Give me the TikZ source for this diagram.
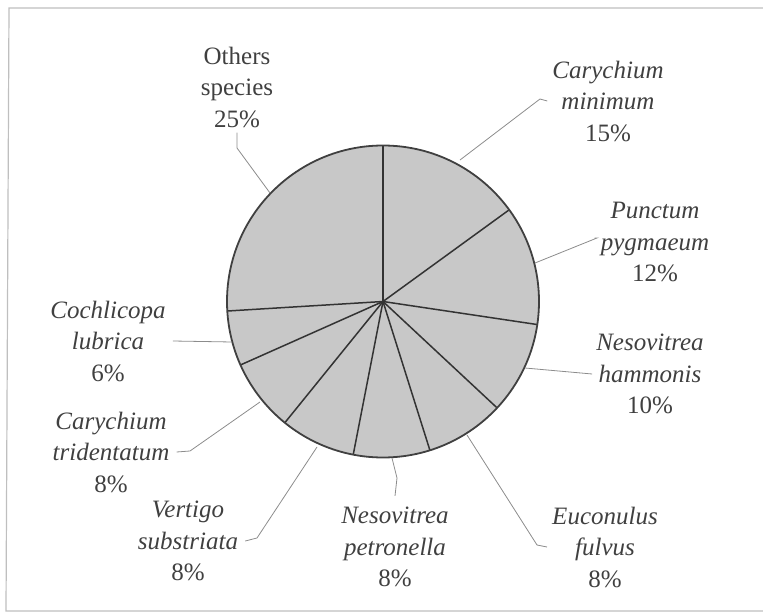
\documentclass[tikz,border=0pt]{standalone}
\usepackage{fontspec}
\setmainfont{Liberation Serif}
\definecolor{slicegray}{RGB}{200,200,200}
\definecolor{labgray}{RGB}{64,64,64}
\tikzset{leader/.style={draw=black!45,line width=0.8pt}}

\begin{document}
\begin{tikzpicture}
  [x=1pt,y=-1pt,every node/.style={align=center,inner sep=2pt,text=labgray,
   font=\fontsize{25}{31.5}\selectfont}]
  \useasboundingbox (0,0) rectangle (763,612);
  \draw[black!25,line width=1.2pt] (763,8) -- (9,8) -- (6,611) -- (763,611);

  % the pie
  \coordinate (c) at (383,301.5);
  \fill[slicegray] (c) circle (156);
  \foreach \a in {-90,-36,8.5,43,72.5,101,129,156,176.5}
    \draw[black!80,line width=1.5pt] (c) -- ++(\a:156);
  \draw[black!75,line width=1.8pt] (c) circle (156);

  % labels
  \node (oth)  at (237,87)  {Others\\species\\25\%};
  \node (cmin) at (608,101) {\textit{Carychium}\\\textit{minimum}\\15\%};
  \node (ppyg) at (655,242) {\textit{Punctum}\\\textit{pygmaeum}\\12\%};
  \node (nham) at (650,374) {\textit{Nesovitrea}\\\textit{hammonis}\\10\%};
  \node (eful) at (605,547) {\textit{Euconulus}\\\textit{fulvus}\\8\%};
  \node (npet) at (395,547) {\textit{Nesovitrea}\\\textit{petronella}\\8\%};
  \node (vsub) at (188,541) {\textit{Vertigo}\\\textit{substriata}\\8\%};
  \node (ctri) at (111,452) {\textit{Carychium}\\\textit{tridentatum}\\8\%};
  \node (club) at (108,341) {\textit{Cochlicopa}\\\textit{lubrica}\\6\%};

  % leader lines
  \foreach \n/\x/\y in {othe/270/193,cmine/460/160,ppyge/535/263,nhame/525/368,
      efule/467/435,npete/392/458,vsube/317/447,ctrie/260/402,clube/232/342}
    \coordinate (\n) at (\x,\y);
  \draw[leader] (othe) -- (237,148) -- ([yshift=-3pt]oth.south);
  \draw[leader] (cmine) -- (540,99) -- ([xshift=-3pt]cmin.west);
  \draw[leader] (ppyge) -- (597,238) -- ([xshift=-4pt,yshift=4pt]ppyg.west);
  \draw[leader] (nhame) -- ([xshift=-2pt]nham.west);
  \draw[leader] (efule) -- (537,545) -- ([xshift=-3pt]eful.west);
  \draw[leader] (npete) -- (397,478) -- ([yshift=9pt]npet.north);
  \draw[leader] (vsube) -- (257,538) -- ([xshift=5pt]vsub.east);
  \draw[leader] (ctrie) -- (190,451) -- ([xshift=5pt]ctri.east);
  \draw[leader] (clube) -- ([xshift=5pt]club.east);
\end{tikzpicture}
\end{document}
